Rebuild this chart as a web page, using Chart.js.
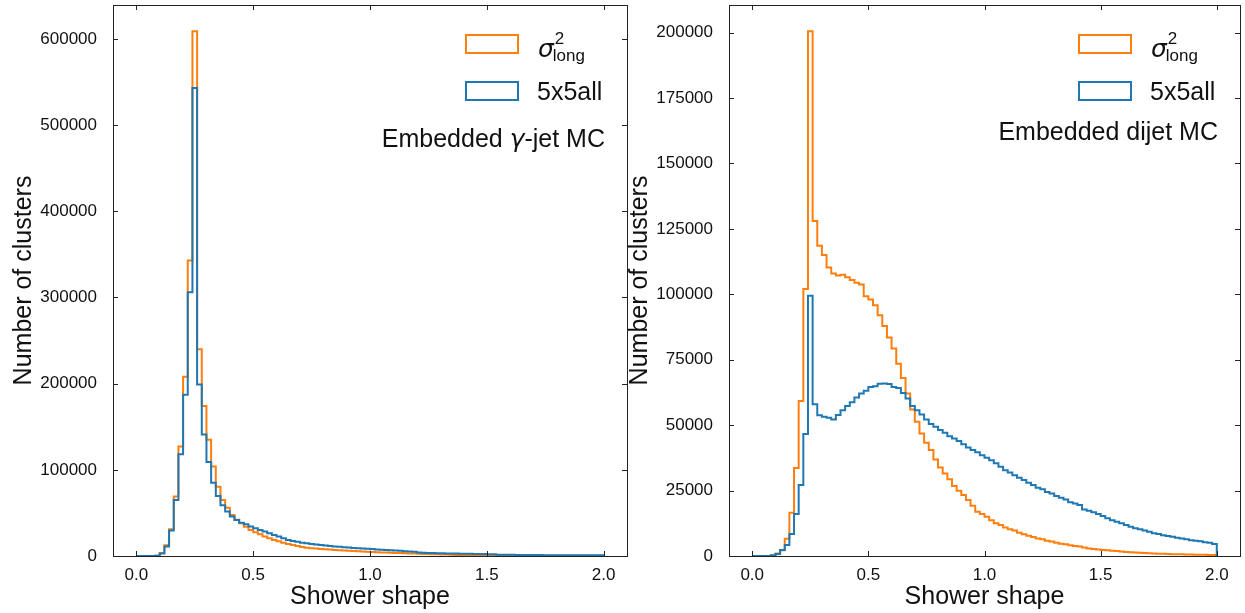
<!DOCTYPE html>
<html lang="en">
<head>
<meta charset="UTF-8">
<title>Shower shape</title>
<script src="https://cdn.jsdelivr.net/npm/chart.js"></script>
<style>
    html, body { margin: 0; padding: 0; background: #fff; }
    body { width: 1245px; height: 613px; position: relative; overflow: hidden; }
    .panel { position: absolute; top: 0; }
</style>
</head>
<body>
<canvas id="leftChart" class="panel" width="640" height="613" style="left:0"></canvas>
<canvas id="rightChart" class="panel" width="629" height="613" style="left:616px"></canvas>

<script>
// histogram binning: 100 bins of width 0.02 between 0 and 2
const binStart = 0;
const binWidth = 0.02;

const xTickValues = [0, 0.5, 1.0, 1.5, 2.0];
const leftYTicks = [0, 100000, 200000, 300000, 400000, 500000, 600000];
const rightYTicks = [0, 25000, 50000, 75000, 100000, 125000, 150000, 175000, 200000];

const seriesNames = ['σ²long', '5x5all'];

// Embedded gamma-jet MC
const leftSigmaLong = [
    0, 0, 0, 0, 300, 3500, 12500, 31000, 69000, 127000,
    208000, 343000, 609000, 240000, 174000, 135000, 104000, 80500, 65000, 56000,
    47500, 42000, 38000, 34000, 30200, 27500, 25200, 22500, 20600, 18600,
    17100, 15500, 14000, 12800, 11600, 10500, 9700, 9000, 8600, 8200,
    7800, 7400, 7000, 6700, 6400, 6100, 5800, 5500, 5200, 5000,
    4700, 4400, 4200, 4000, 3800, 3600, 3400, 3200, 3000, 2800,
    2600, 2400, 2200, 2000, 1900, 1700, 1600, 1500, 1300, 1200,
    1100, 1000, 950, 900, 850, 800, 750, 700, 650, 600,
    580, 550, 520, 500, 470, 450, 420, 400, 380, 360,
    340, 320, 300, 290, 280, 270, 260, 250, 240, 230
];
const leftAll5x5 = [
    0, 0, 0, 0, 400, 3000, 11000, 29500, 65000, 118000,
    187000, 306000, 543000, 199000, 141000, 109000, 85000, 69500, 59000, 51500,
    45700, 41900, 38700, 36800, 34100, 32200, 30200, 28300, 26400, 24400,
    22500, 20600, 18600, 17400, 16600, 15500, 14700, 14000, 13300, 12700,
    12200, 11700, 11100, 10600, 10200, 9800, 9400, 9000, 8700, 8300,
    8000, 7600, 7300, 7000, 6700, 6400, 6100, 5600, 5300, 5000,
    4000, 3700, 3500, 3400, 3300, 3200, 3000, 2900, 2800, 2700,
    2600, 2500, 2400, 2300, 2200, 2100, 1900, 1500, 1450, 1400,
    1350, 1300, 1250, 1200, 1150, 1100, 1050, 1000, 980, 950,
    920, 900, 880, 860, 850, 840, 830, 820, 810, 800
];

// Embedded dijet MC
const rightSigmaLong = [
    0, 0, 0, 0, 200, 1000, 2200, 6600, 16500, 33600,
    59200, 102000, 200500, 128000, 118500, 115000, 110200, 107900, 107200, 107500,
    106500, 105500, 104400, 103700, 99200, 98000, 95800, 92000, 87900, 83500,
    79300, 73500, 68000, 62100, 56000, 51300, 46800, 43300, 40500, 36900,
    33800, 31500, 29300, 26700, 24900, 23300, 21400, 19200, 16900, 16000,
    15000, 13700, 12500, 11800, 10900, 10200, 9700, 8900, 8300, 7700,
    7300, 6700, 6400, 5800, 5500, 5100, 4700, 4500, 4100, 3800,
    3600, 3200, 2900, 2700, 2500, 2300, 2200, 2000, 1900, 1700,
    1500, 1400, 1300, 1200, 1100, 1050, 1000, 900, 850, 800,
    700, 680, 650, 600, 560, 520, 480, 450, 420, 400
];
const rightAll5x5 = [
    0, 0, 0, 0, 300, 800, 2300, 4200, 8400, 16000,
    27100, 46600, 99400, 58000, 53800, 53200, 52800, 52200, 53900, 55700,
    57300, 58700, 60600, 62100, 63100, 64600, 64900, 65800, 65900, 65700,
    64600, 64200, 62300, 60200, 57300, 55700, 54100, 52200, 50400, 49400,
    48100, 47100, 45800, 44900, 43900, 42700, 41500, 40500, 39600, 38500,
    37500, 36600, 35400, 34100, 32800, 31900, 30900, 29900, 29000, 28000,
    27100, 26100, 25500, 24500, 23900, 22900, 22300, 21600, 20500, 20100,
    19500, 17800, 17300, 16700, 16000, 15300, 14400, 13700, 13100, 12500,
    11800, 11200, 10600, 10200, 9700, 9300, 8700, 8400, 7900, 7600,
    7400, 7000, 6700, 6400, 6000, 5800, 5600, 5300, 5100, 4600
];

const ORANGE = '#ff7f0e';
const BLUE = '#1f77b4';
const FONT = '"Liberation Sans", Arial, Helvetica, sans-serif';
const MATH = '"DejaVu Sans", sans-serif';
const INK = '#111';
const BIG = 25;

// outline of a step histogram (like histtype='step')
function stepPoints(counts) {
    const end = binStart + counts.length * binWidth;
    const pts = [{ x: binStart, y: 0 }];
    counts.forEach((c, i) => pts.push({ x: binStart + i * binWidth, y: c }));
    pts.push({ x: end, y: counts[counts.length - 1] });
    pts.push({ x: end, y: 0 });
    return pts;
}

// frame on all four sides with inward ticks
const frameTicks = {
    id: 'frameTicks',
    afterDraw(chart) {
        const { ctx, chartArea: a, scales: { x, y } } = chart;
        const len = 5;
        ctx.save();
        ctx.strokeStyle = '#222';
        ctx.lineWidth = 1;
        ctx.beginPath();
        x.ticks.forEach(t => {
            const px = Math.round(x.getPixelForValue(t.value)) + 0.5;
            ctx.moveTo(px, a.bottom); ctx.lineTo(px, a.bottom - len);
            ctx.moveTo(px, a.top); ctx.lineTo(px, a.top + len);
        });
        y.ticks.forEach(t => {
            const py = Math.round(y.getPixelForValue(t.value)) + 0.5;
            ctx.moveTo(a.left, py); ctx.lineTo(a.left + len, py);
            ctx.moveTo(a.right, py); ctx.lineTo(a.right - len, py);
        });
        ctx.stroke();
        ctx.strokeRect(Math.round(a.left) + 0.5, Math.round(a.top) + 0.5,
            Math.round(a.right - a.left), Math.round(a.bottom - a.top));
        ctx.restore();
    }
};

function drawSigmaLong(ctx, x, yc) {
    ctx.textBaseline = 'alphabetic';
    ctx.textAlign = 'left';
    const base = yc + 13;
    ctx.font = 'italic ' + BIG + 'px ' + MATH;
    ctx.fillText('σ', x, base);
    const w = ctx.measureText('σ').width;
    ctx.font = '17px ' + FONT;
    ctx.fillText('2', x + w + 1, base - 13);
    ctx.fillText('long', x + w - 1, base + 4);
}

// legend boxes + text annotation
const histLegend = {
    id: 'histLegend',
    afterDraw(chart, args, opts) {
        const { ctx, chartArea: a } = chart;
        const boxR = a.right - 109, boxW = 52, boxH = 18;
        const rows = [
            { label: seriesNames[0], color: ORANGE, yc: a.top + 39 },
            { label: seriesNames[1], color: BLUE, yc: a.top + 86 }
        ];
        ctx.save();
        ctx.fillStyle = INK;
        rows.forEach(r => {
            ctx.strokeStyle = r.color;
            ctx.lineWidth = 2;
            ctx.strokeRect(boxR - boxW, r.yc - boxH / 2, boxW, boxH);
            if (r.label === seriesNames[0]) {
                drawSigmaLong(ctx, boxR + 20, r.yc);
            } else {
                ctx.font = BIG + 'px ' + FONT;
                ctx.textBaseline = 'alphabetic';
                ctx.textAlign = 'left';
                ctx.fillText(r.label, boxR + 19, r.yc + 9);
            }
        });
        // note, right aligned; italic parts are math symbols
        const parts = opts.note;
        const right = a.right - 22;
        const base = a.top + opts.noteBase;
        const fontOf = p => (p.italic ? 'italic ' + BIG + 'px ' + MATH : BIG + 'px ' + FONT);
        let total = 0;
        parts.forEach(p => {
            ctx.font = fontOf(p);
            p.w = ctx.measureText(p.t).width;
            total += p.w;
        });
        let cx = right - total;
        ctx.textAlign = 'left';
        parts.forEach(p => {
            ctx.font = fontOf(p);
            ctx.fillText(p.t, cx, base);
            cx += p.w;
        });
        ctx.restore();
    }
};

function makeChart(id, sigma, all5, yTicks, rightPad, note, noteBase) {
    const ymax = Math.max(...sigma, ...all5) * 1.05;
    return new Chart(document.getElementById(id), {
        type: 'line',
        data: {
            datasets: [
                { label: seriesNames[0], data: stepPoints(sigma), borderColor: ORANGE, order: 2 },
                { label: seriesNames[1], data: stepPoints(all5), borderColor: BLUE, order: 1 }
            ]
        },
        options: {
            responsive: false,
            animation: false,
            layout: { padding: { left: 0, right: rightPad, top: 5, bottom: 0 } },
            elements: {
                point: { radius: 0 },
                line: { borderWidth: 2, stepped: true, fill: false, tension: 0 }
            },
            plugins: {
                legend: { display: false },
                tooltip: { enabled: false },
                histLegend: { note: note, noteBase: noteBase }
            },
            scales: {
                x: {
                    type: 'linear', min: -0.1, max: 2.1,
                    afterBuildTicks: s => { s.ticks = xTickValues.map(v => ({ value: v })); },
                    afterFit: s => { s.height = 57; s.paddingLeft = 0; s.paddingRight = 0; },
                    grid: { display: false, drawTicks: false },
                    border: { display: false },
                    ticks: {
                        padding: 9, autoSkip: false, maxRotation: 0, color: INK,
                        font: { family: FONT, size: 17 },
                        callback: v => Number(v).toFixed(1)
                    },
                    title: {
                        display: true, text: 'Shower shape', color: INK,
                        font: { family: FONT, size: BIG },
                        padding: { top: 0, bottom: 1 }
                    }
                },
                y: {
                    type: 'linear', min: 0, max: ymax,
                    afterBuildTicks: s => { s.ticks = yTicks.map(v => ({ value: v })); },
                    afterFit: s => { s.width = 113; s.paddingTop = 0; s.paddingBottom = 0; },
                    grid: { display: false, drawTicks: false },
                    border: { display: false },
                    ticks: {
                        padding: 16, autoSkip: false, color: INK,
                        font: { family: FONT, size: 17 },
                        callback: v => String(v)
                    },
                    title: {
                        display: true, text: 'Number of clusters', color: INK,
                        font: { family: FONT, size: BIG },
                        padding: { top: 9, bottom: 0 }
                    }
                }
            }
        },
        plugins: [frameTicks, histLegend]
    });
}

makeChart('leftChart', leftSigmaLong, leftAll5x5, leftYTicks, 13,
    [{ t: 'Embedded ' }, { t: 'γ', italic: true }, { t: '-jet MC' }], 142);
makeChart('rightChart', rightSigmaLong, rightAll5x5, rightYTicks, 5,
    [{ t: 'Embedded dijet MC' }], 135);
</script>
</body>
</html>
